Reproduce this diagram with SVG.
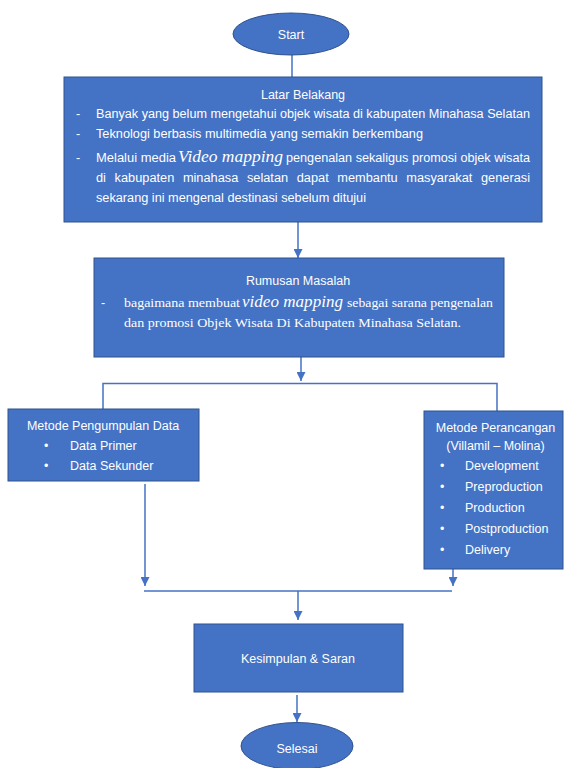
<svg xmlns="http://www.w3.org/2000/svg" width="564" height="768" viewBox="0 0 564 768">
<defs>
<marker id="ah" markerUnits="userSpaceOnUse" markerWidth="9" markerHeight="9" viewBox="0 0 9 9" refX="9" refY="4.5" orient="auto">
<path d="M0,0 L9,4.5 L0,9 Z" fill="#4472C4"/>
</marker>
<style>
.box{fill:#4472C4;stroke:#2F528F;stroke-width:1}
.c{fill:none;stroke:#4472C4;stroke-width:1.5}
.t{fill:#FFFFFF;font-family:"Liberation Sans",Arial,sans-serif;font-size:12.5px}
.s{fill:#FFFFFF;font-family:"Liberation Serif","Times New Roman",serif;font-size:13.5px}
.i{fill:#FFFFFF;font-family:"Liberation Serif","Times New Roman",serif;font-style:italic;font-size:17px}
.m{text-anchor:middle}
</style>
</defs>
<rect width="564" height="768" fill="#FFFFFF"/>
<g id="connectors">
<path class="c" d="M292,55 V77"/>
<path class="c" d="M298,222 V258" marker-end="url(#ah)"/>
<path class="c" d="M301,357 V381" marker-end="url(#ah)"/>
<path class="c" d="M103,409 V383.5 H497 V411"/>
<path class="c" d="M145,484 V586" marker-end="url(#ah)"/>
<path class="c" d="M453,569 V586" marker-end="url(#ah)"/>
<path class="c" d="M144,591 H452"/>
<path class="c" d="M298,591 V620" marker-end="url(#ah)"/>
<path class="c" d="M297,695 V722" marker-end="url(#ah)"/>
</g>
<g id="start">
<ellipse class="box" cx="291" cy="34" rx="58" ry="21"/>
<text class="t m" x="291" y="39">Start</text>
</g>
<g id="latar-belakang">
<rect class="box" x="64" y="77" width="478" height="145"/>
<text class="t m" x="303" y="99">Latar Belakang</text>
<text class="t" x="76" y="118">-</text>
<text class="t" x="96" y="118" textLength="434" lengthAdjust="spacingAndGlyphs">Banyak yang belum mengetahui objek wisata di kabupaten Minahasa Selatan</text>
<text class="t" x="76" y="138">-</text>
<text class="t" x="96" y="138" textLength="327" lengthAdjust="spacingAndGlyphs">Teknologi berbasis multimedia yang semakin berkembang</text>
<text class="t" x="76" y="162">-</text>
<text class="t" x="96" y="162" textLength="80" lengthAdjust="spacingAndGlyphs">Melalui media</text>
<text class="i" x="178" y="162" textLength="105" lengthAdjust="spacingAndGlyphs">Video mapping</text>
<text class="t" x="286" y="162" textLength="244" lengthAdjust="spacingAndGlyphs">pengenalan sekaligus promosi objek wisata</text>
<text class="t" x="96" y="182" word-spacing="5" textLength="434" lengthAdjust="spacingAndGlyphs">di kabupaten minahasa selatan dapat membantu masyarakat generasi</text>
<text class="t" x="96" y="202" textLength="270" lengthAdjust="spacingAndGlyphs">sekarang ini mengenal destinasi sebelum ditujui</text>
</g>
<g id="rumusan-masalah">
<rect class="box" x="94" y="258" width="410" height="99"/>
<text class="t m" x="298" y="285">Rumusan Masalah</text>
<text class="t" x="101" y="307">-</text>
<text class="s" x="124" y="307" textLength="116" lengthAdjust="spacingAndGlyphs">bagaimana membuat</text>
<text class="i" x="242" y="307" textLength="101" lengthAdjust="spacingAndGlyphs">video mapping</text>
<text class="s" x="347" y="307" textLength="146" lengthAdjust="spacingAndGlyphs">sebagai sarana pengenalan</text>
<text class="s" x="124" y="327" textLength="337" lengthAdjust="spacingAndGlyphs">dan promosi Objek Wisata Di Kabupaten Minahasa Selatan.</text>
</g>
<g id="metode-pengumpulan-data">
<rect class="box" x="8" y="409" width="191" height="72"/>
<text class="t m" x="103" y="430">Metode Pengumpulan Data</text>
<text class="t" x="44" y="450">•</text>
<text class="t" x="70" y="450">Data Primer</text>
<text class="t" x="44" y="470">•</text>
<text class="t" x="70" y="470">Data Sekunder</text>
</g>
<g id="metode-perancangan">
<rect class="box" x="424" y="411" width="139" height="158"/>
<text class="t m" x="495.5" y="432">Metode Perancangan</text>
<text class="t m" x="495.5" y="450">(Villamil – Molina)</text>
<text class="t" x="440" y="470">•</text>
<text class="t" x="465" y="470">Development</text>
<text class="t" x="440" y="491">•</text>
<text class="t" x="465" y="491">Preproduction</text>
<text class="t" x="440" y="512">•</text>
<text class="t" x="465" y="512">Production</text>
<text class="t" x="440" y="533">•</text>
<text class="t" x="465" y="533">Postproduction</text>
<text class="t" x="440" y="554">•</text>
<text class="t" x="465" y="554">Delivery</text>
</g>
<g id="kesimpulan-saran">
<rect class="box" x="194" y="624" width="209" height="68"/>
<text class="t m" x="298" y="663">Kesimpulan &amp; Saran</text>
</g>
<g id="selesai">
<ellipse class="box" cx="297" cy="746" rx="56" ry="23.5"/>
<text class="t m" x="297" y="753">Selesai</text>
</g>
</svg>
